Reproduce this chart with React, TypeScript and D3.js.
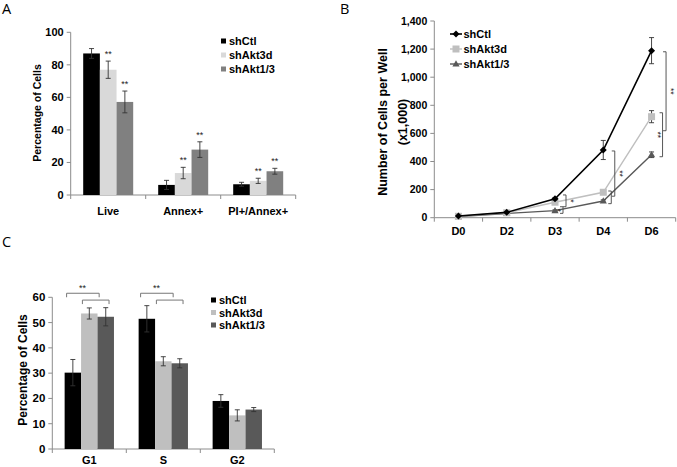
import React from "react";
import * as d3 from "d3";

// ---------- DATA ----------
const seriesNames = ["shCtl", "shAkt3d", "shAkt1/3"];

const catsA = ["Live", "Annex+", "PI+/Annex+"];
const aShCtl = [87, 6.2, 6.6];
const aShCtlErr = [3, 2.8, 1.2];
const aShAkt3d = [77, 13.5, 8.7];
const aShAkt3dErr = [5.3, 3.5, 1.6];
const aShAkt13 = [57.2, 27.9, 14.6];
const aShAkt13Err = [6.7, 4.8, 1.8];
// significance marks per series (rows) and category (columns)
const aSig = [["", "", ""], ["**", "**", "**"], ["**", "**", "**"]];
const ticksA = [0, 20, 40, 60, 80, 100];

const daysB = ["D0", "D2", "D3", "D4", "D6"];
const bShCtl = [12, 38, 135, 482, 1189];
const bShCtlErr = [4, 5, 8, 68, 93];
const bShAkt3d = [10, 35, 110, 181, 719];
const bShAkt3dErr = [3, 4, 10, 10, 43];
const bShAkt13 = [8, 30, 50, 119, 448];
const bShAkt13Err = [3, 4, 6, 8, 20];
const ticksB = [0, 200, 400, 600, 800, 1000, 1200, 1400];
// brackets: day, from value, to value, x offset, label, label side
const bracketsB = [
  { day: "D3", from: 162, to: 78, off: 11, label: "*", side: 1 },
  { day: "D3", from: 78, to: 31, off: 8, label: "*", side: -1 },
  { day: "D4", from: 475, to: 153, off: 11.5, label: "**", side: 1 },
  { day: "D4", from: 190, to: 100, off: 8, label: "", side: 1 },
  { day: "D6", from: 1181, to: 619, off: 14.5, label: "**", side: 1 },
  { day: "D6", from: 747, to: 434, off: 11, label: "**", side: -1 },
];

const catsC = ["G1", "S", "G2"];
const cShCtl = [30.2, 51.5, 19];
const cShCtlErr = [5.2, 5.2, 2.5];
const cShAkt3d = [53.6, 34.7, 13.3];
const cShAkt3dErr = [2.2, 1.8, 2.2];
const cShAkt13 = [52.3, 33.9, 15.6];
const cShAkt13Err = [3.6, 1.8, 0.8];
const ticksC = [0, 10, 20, 30, 40, 50, 60];
const bracketCats = ["G1", "S"];

// ---------- STYLE ----------
const FONT = "'Liberation Sans', Arial, sans-serif";
const LETTER_FONT = "'Open Sans', 'Noto Sans', sans-serif";
const AXIS = "#8c8c8c";
const ERR = "#333";
const colorsA = ["#000000", "#d9d9d9", "#808080"];
const colorsC = ["#000000", "#bfbfbf", "#595959"];
const colorsB = ["#000000", "#bfbfbf", "#595959"];

function BarPanel(props: any) {
  const { cats, vals, errs, colors, x0, x1, yTop, yBot, ymax, ticks, fontTick, fontCat, catY } = props;
  const x = d3.scaleBand<string>().domain(cats).range([x0, x1]).paddingInner(1 / 3).paddingOuter(1 / 6);
  const xs = d3.scaleBand<number>().domain([0, 1, 2]).range([0, x.bandwidth()]);
  const y = d3.scaleLinear().domain([0, ymax]).range([yBot, yTop]);
  const step = x.step();
  return (
    <g>
      <line x1={x0} x2={x0} y1={yTop} y2={yBot} stroke={AXIS} strokeWidth={1} />
      {ticks.map((t: number) => (
        <g key={"yt" + t}>
          <line x1={x0 - 4} x2={x0} y1={y(t)} y2={y(t)} stroke={AXIS} />
          <text x={x0 - 7} y={y(t)} dy="0.35em" textAnchor="end" fontFamily={FONT} fontWeight="bold" fontSize={fontTick}>{t}</text>
        </g>
      ))}
      <line x1={x0} x2={x1} y1={yBot} y2={yBot} stroke={AXIS} strokeWidth={1} />
      {d3.range(cats.length + 1).map((i) => (
        <line key={"xt" + i} x1={x0 + i * step} x2={x0 + i * step} y1={yBot} y2={yBot + 4} stroke={AXIS} />
      ))}
      {cats.map((c: string) => (
        <text key={"xl" + c} x={(x(c) as number) + x.bandwidth() / 2} y={catY} textAnchor="middle" fontFamily={FONT} fontWeight="bold" fontSize={fontCat}>{c}</text>
      ))}
      {vals.map((series: number[], si: number) =>
        series.map((v: number, ci: number) => {
          const bx = (x(cats[ci]) as number) + (xs(si) as number);
          const bw = xs.bandwidth();
          const cx = bx + bw / 2;
          const e = errs[si][ci];
          return (
            <g key={"b" + si + "-" + ci}>
              <rect x={bx} y={y(v)} width={bw} height={yBot - y(v)} fill={colors[si]} />
              <line x1={cx} x2={cx} y1={y(v + e)} y2={y(Math.max(0, v - e))} stroke={ERR} strokeWidth={0.9} />
              <line x1={cx - 2.5} x2={cx + 2.5} y1={y(v + e)} y2={y(v + e)} stroke={ERR} strokeWidth={0.9} />
              <line x1={cx - 2.5} x2={cx + 2.5} y1={y(Math.max(0, v - e))} y2={y(Math.max(0, v - e))} stroke={ERR} strokeWidth={0.9} />
              {props.sig && props.sig[si][ci] ? (
                <text x={cx} y={y(v + e) - 4} textAnchor="middle" fontFamily={FONT} fontSize={9} fill="#222">{props.sig[si][ci]}</text>
              ) : null}
            </g>
          );
        })
      )}
    </g>
  );
}

function Legend(props: any) {
  const { x, y, gap, colors, size, fontSize } = props;
  return (
    <g>
      {seriesNames.map((n, i) => (
        <g key={n}>
          <rect x={x} y={y + i * gap - size / 2 - 0.5} width={size} height={size} fill={colors[i]} />
          <text x={x + size + 3} y={y + i * gap} dy="0.35em" fontFamily={FONT} fontWeight="bold" fontSize={fontSize}>{n}</text>
        </g>
      ))}
    </g>
  );
}

function Marker(props: any) {
  const { kind, cx, cy, color } = props;
  if (kind === 0) return <path d={`M${cx},${cy - 3.5}L${cx + 3.5},${cy}L${cx},${cy + 3.5}L${cx - 3.5},${cy}Z`} fill={color} />;
  if (kind === 1) return <rect x={cx - 3.5} y={cy - 3.5} width={7} height={7} fill={color} />;
  return <path d={`M${cx},${cy - 3.8}L${cx + 3.6},${cy + 2.6}L${cx - 3.6},${cy + 2.6}Z`} fill={color} />;
}

function LinePanel() {
  const x0 = 434.3, x1 = 675.7, yTop = 21, yBot = 217.7;
  const xb = d3.scaleBand<string>().domain(daysB).range([x0, x1]);
  const xc = (d: string) => (xb(d) as number) + xb.bandwidth() / 2;
  const y = d3.scaleLinear().domain([0, 1400]).range([yBot, yTop]);
  const vals = [bShCtl, bShAkt3d, bShAkt13];
  const errs = [bShCtlErr, bShAkt3dErr, bShAkt13Err];
  const line = d3.line<number>().x((_, i) => xc(daysB[i])).y((v) => y(v));
  const fmt = d3.format(",");
  const widths = [1.6, 1.4, 1.4];
  return (
    <g>
      <line x1={x0} x2={x0} y1={yTop} y2={yBot} stroke={AXIS} />
      {ticksB.map((t) => (
        <g key={"bt" + t}>
          <line x1={x0 - 4} x2={x0} y1={y(t)} y2={y(t)} stroke={AXIS} />
          <text x={x0 - 7} y={y(t)} dy="0.35em" textAnchor="end" fontFamily={FONT} fontWeight="bold" fontSize={10.5}>{fmt(t)}</text>
        </g>
      ))}
      <line x1={x0} x2={x1} y1={yBot} y2={yBot} stroke={AXIS} />
      {d3.range(daysB.length + 1).map((i) => (
        <line key={"bx" + i} x1={x0 + i * xb.step()} x2={x0 + i * xb.step()} y1={yBot} y2={yBot + 4} stroke={AXIS} />
      ))}
      {daysB.map((d) => (
        <text key={d} x={xc(d)} y={235} textAnchor="middle" fontFamily={FONT} fontWeight="bold" fontSize={11}>{d}</text>
      ))}
      {[2, 1, 0].map((si) => (
        <g key={"s" + si}>
          <path d={line(vals[si]) as string} fill="none" stroke={colorsB[si]} strokeWidth={widths[si]} />
          {vals[si].map((v, i) => {
            const cx = xc(daysB[i]);
            const e = errs[si][i];
            return (
              <g key={i}>
                <line x1={cx} x2={cx} y1={y(v + e)} y2={y(v - e)} stroke={ERR} strokeWidth={0.9} />
                <line x1={cx - 2.5} x2={cx + 2.5} y1={y(v + e)} y2={y(v + e)} stroke={ERR} strokeWidth={0.9} />
                <line x1={cx - 2.5} x2={cx + 2.5} y1={y(v - e)} y2={y(v - e)} stroke={ERR} strokeWidth={0.9} />
                <Marker kind={si} cx={cx} cy={y(v)} color={colorsB[si]} />
              </g>
            );
          })}
        </g>
      ))}
      {bracketsB.map((b, i) => {
        const bx = xc(b.day) + b.off;
        const ya = y(b.from), yb = y(b.to);
        const ym = (ya + yb) / 2;
        const lx = bx + b.side * 5;
        return (
          <g key={"br" + i}>
            <path d={`M${bx - 3},${ya}H${bx}V${yb}H${bx - 3}`} fill="none" stroke="#444" strokeWidth={0.9} />
            {b.label ? (
              <text x={lx} y={ym} textAnchor="middle" dy="0.35em" fontFamily={FONT} fontSize={8.5} fill="#222" transform={`rotate(90,${lx},${ym})`}>{b.label}</text>
            ) : null}
          </g>
        );
      })}
      {seriesNames.map((n, i) => {
        const ly = 34 + i * 15;
        return (
          <g key={"lg" + n}>
            <line x1={450} x2={462} y1={ly} y2={ly} stroke={colorsB[i]} strokeWidth={widths[i]} />
            <Marker kind={i} cx={456} cy={ly} color={colorsB[i]} />
            <text x={463.5} y={ly} dy="0.35em" fontFamily={FONT} fontWeight="bold" fontSize={11}>{n}</text>
          </g>
        );
      })}
      <text transform="translate(386.5,122) rotate(-90)" textAnchor="middle" fontFamily={FONT} fontWeight="bold" fontSize={12.5}>Number of Cells per Well</text>
      <text transform="translate(398.5,122) rotate(-90)" textAnchor="middle" dy="0.7em" fontFamily={FONT} fontWeight="bold" fontSize={12.5}>(x1,000)</text>
    </g>
  );
}

export default function App() {
  const xC = d3.scaleBand<string>().domain(catsC).range([52.3, 274.3]).paddingInner(1 / 3).paddingOuter(1 / 6);
  const yC = d3.scaleLinear().domain([0, 60]).range([449, 297.3]);
  return (
    <svg width={677} height={467} style={{ position: "absolute", left: 0, top: 0, background: "#fff" }}>
      <rect width={677} height={467} fill="#fff" />
      <text x={2} y={14} fontFamily={LETTER_FONT} fontSize={14.5}>A</text>
      <text x={340} y={14} fontFamily={LETTER_FONT} fontSize={14.5}>B</text>
      <text x={2} y={247} fontFamily={LETTER_FONT} fontSize={14.5}>C</text>

      <BarPanel cats={catsA} vals={[aShCtl, aShAkt3d, aShAkt13]} errs={[aShCtlErr, aShAkt3dErr, aShAkt13Err]}
        colors={colorsA} x0={70.7} x1={295.7} yTop={32.3} yBot={195} ymax={100} ticks={ticksA}
        fontTick={11} fontCat={11} catY={215} sig={aSig} />
      <text transform="translate(41,113) rotate(-90)" textAnchor="middle" fontFamily={FONT} fontWeight="bold" fontSize={10.5}>Percentage of Cells</text>
      <Legend x={221} y={41.5} gap={14} colors={colorsA} size={5} fontSize={11} />

      <LinePanel />

      <BarPanel cats={catsC} vals={[cShCtl, cShAkt3d, cShAkt13]} errs={[cShCtlErr, cShAkt3dErr, cShAkt13Err]}
        colors={colorsC} x0={52.3} x1={274.3} yTop={297.3} yBot={449} ymax={60} ticks={ticksC}
        fontTick={11.5} fontCat={11} catY={464} />
      <text transform="translate(27,370) rotate(-90)" textAnchor="middle" fontFamily={FONT} fontWeight="bold" fontSize={12}>Percentage of Cells</text>
      <Legend x={211} y={300.5} gap={12.5} colors={colorsC} size={5} fontSize={11} />
      {bracketCats.map((c) => {
        const gx = xC(c) as number;
        const bw = xC.bandwidth();
        const a1 = gx + bw * 0.04, a2 = gx + bw * 0.7;
        const b1 = gx + bw * 0.36, b2 = gx + bw * 0.9;
        const ya = yC(61.6), yb = yC(58.9);
        return (
          <g key={"cb" + c}>
            <path d={`M${a1},${ya + 4}V${ya}H${a2}V${ya + 4}`} fill="none" stroke="#777" strokeWidth={1} />
            <path d={`M${b1},${yb + 4}V${yb}H${b2}V${yb + 4}`} fill="none" stroke="#777" strokeWidth={1} />
            <text x={gx + bw * 0.36} y={ya - 2} textAnchor="middle" fontFamily={FONT} fontSize={9} fill="#222">**</text>
          </g>
        );
      })}
    </svg>
  );
}
